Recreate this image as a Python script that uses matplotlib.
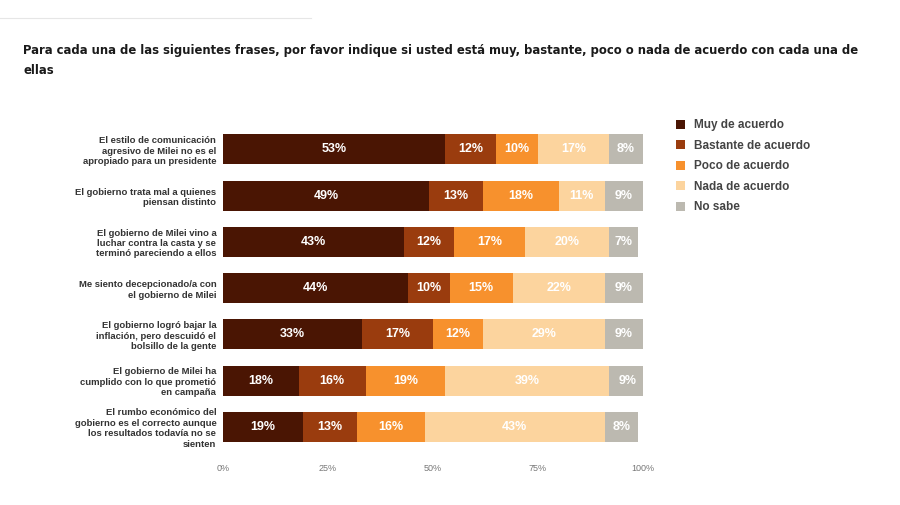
import matplotlib.pyplot as plt
from matplotlib.patches import Patch
from matplotlib.lines import Line2D
import numpy as np

title = ("Para cada una de las siguientes frases, por favor indique si usted está muy, bastante, poco o nada de acuerdo con cada una de\n"
         "ellas")

statements = [
    "El estilo de comunicación\nagresivo de Milei no es el\napropiado para un presidente",
    "El gobierno trata mal a quienes\npiensan distinto",
    "El gobierno de Milei vino a\nluchar contra la casta y se\nterminó pareciendo a ellos",
    "Me siento decepcionado/a con\nel gobierno de Milei",
    "El gobierno logró bajar la\ninflación, pero descuidó el\nbolsillo de la gente",
    "El gobierno de Milei ha\ncumplido con lo que prometió\nen campaña",
    "El rumbo económico del\ngobierno es el correcto aunque\nlos resultados todavía no se\nsienten",
]

series = ["Muy de acuerdo", "Bastante de acuerdo", "Poco de acuerdo", "Nada de acuerdo", "No sabe"]
muy = [53, 49, 43, 44, 33, 18, 19]
bastante = [12, 13, 12, 10, 17, 16, 13]
poco = [10, 18, 17, 15, 12, 19, 16]
nada = [17, 11, 20, 22, 29, 39, 43]
no_sabe = [8, 9, 7, 9, 9, 9, 8]

colors = ["#4a1503", "#9a3c0e", "#f7912d", "#fcd49e", "#bcb9b0"]
tick_vals = [0, 25, 50, 75, 100]

fig = plt.figure(figsize=(9, 5.05), dpi=100)
ax = fig.add_axes([0.248, 0.109, 0.466, 0.641])

data = np.array([muy, bastante, poco, nada, no_sabe])
y = np.arange(len(statements))
left = np.zeros(len(statements))
for vals, c in zip(data, colors):
    ax.barh(y, vals, left=left, height=0.65, color=c, edgecolor="none")
    for yi, (l, v) in enumerate(zip(left, vals)):
        ax.text(l + v / 2, yi, f"{v}%", ha="center", va="center",
                color="white", fontsize=9, fontweight="bold", family="Liberation Sans")
    left += vals

ax.set_ylim(len(statements) - 0.5, -0.5)
ax.set_xlim(0, 100)
ax.set_yticks(y)
ax.set_yticklabels(statements, fontsize=6.8, fontweight="bold", color="#333333",
                   family="Liberation Sans", linespacing=1.2)
ax.set_xticks(tick_vals)
ax.set_xticklabels([f"{t}%" for t in tick_vals], fontsize=6.5, color="#777777",
                   family="Liberation Sans")
ax.tick_params(axis="both", length=0)
ax.tick_params(axis="y", pad=5)
ax.tick_params(axis="x", pad=10)
for s in ax.spines.values():
    s.set_visible(False)

handles = [Patch(facecolor=c, edgecolor="none") for c in colors]
leg = fig.legend(handles, series, loc="upper left", bbox_to_anchor=(0.739, 0.785),
                 frameon=False, handlelength=0.8, handleheight=0.8, handletextpad=0.75,
                 labelspacing=0.72, prop={"family": "Liberation Sans", "weight": "bold", "size": 8.5})
for t in leg.get_texts():
    t.set_color("#444444")

fig.text(0.026, 0.913, title, ha="left", va="top", fontsize=9.3, fontweight="bold",
         family="DejaVu Sans", stretch="condensed", color="#1a1a1a", linespacing=1.7)

fig.add_artist(Line2D([0.0, 0.345], [0.965, 0.965], color="#e6e6e6", lw=0.8))

plt.savefig("out.png", dpi=100)
